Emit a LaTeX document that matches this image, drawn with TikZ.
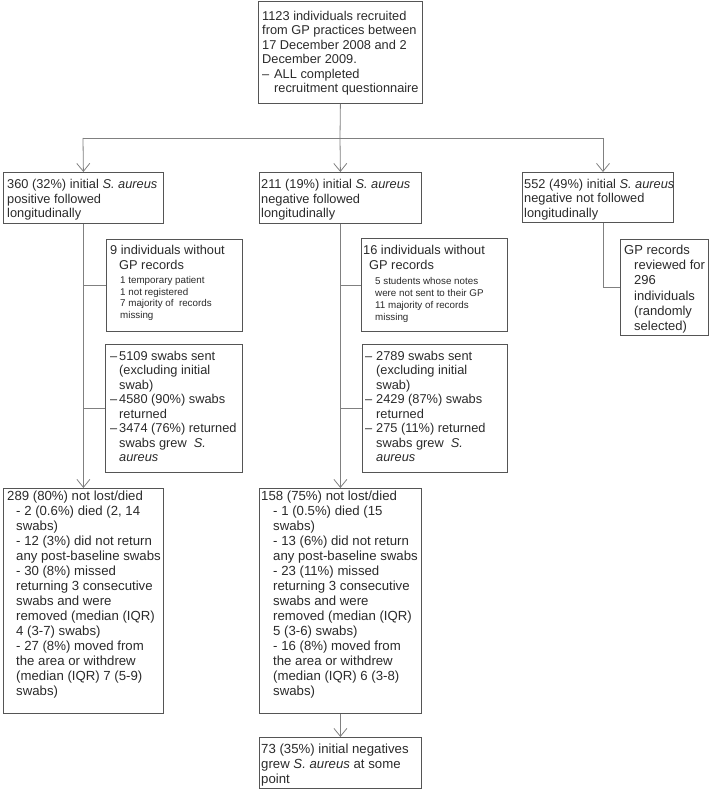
\documentclass[tikz,border=0pt]{standalone}
\usepackage{fontspec}
\setmainfont{Liberation Sans}
\usetikzlibrary{arrows.meta,calc}
\definecolor{txtc}{HTML}{2A2A2A}
\definecolor{boxc}{HTML}{555555}
\definecolor{linec}{HTML}{808080}
\newcommand{\fbigA}{\fontsize{12.8}{14.5}\selectfont}
\newcommand{\fbigB}{\fontsize{12.8}{15}\selectfont}
\newcommand{\fbot}{\fontsize{13.2}{15}\selectfont}
\newcommand{\fgp}{\fontsize{13}{15.3}\selectfont}
\newcommand{\fsmallA}{\fontsize{9.8}{11.8}\selectfont}
\newcommand{\dsh}[1]{\makebox[#1][l]{–}}
\newcommand{\ind}[1]{\hspace*{#1}}
\begin{document}
\begin{tikzpicture}[x=1pt,y=-1pt,
  box/.style={draw=boxc,line width=0.8pt,inner sep=0pt,anchor=north west},
  txt/.style={inner sep=0pt,anchor=north west,align=left,text=txtc},
  conn/.style={draw=linec,line width=0.8pt},
  arr/.style={-{Straight Barb[length=8pt,width=13pt]}}]
\useasboundingbox (0,0) rectangle (711,791);
% boxes
\node[box,minimum width=164pt,minimum height=102pt] (top) at (258,1) {};
\node[box,minimum width=160pt,minimum height=51pt] (b1) at (3,172) {};
\node[box,minimum width=162pt,minimum height=51pt] (b2) at (259,172) {};
\node[box,minimum width=151pt,minimum height=50pt] (b3) at (522,172) {};
\node[box,minimum width=136pt,minimum height=92pt] (l9) at (106,239) {};
\node[box,minimum width=137pt,minimum height=128pt] (lsw) at (105,344) {};
\node[box,minimum width=160pt,minimum height=225pt] (lbot) at (3,488) {};
\node[box,minimum width=146pt,minimum height=93pt] (m16) at (361,238) {};
\node[box,minimum width=145pt,minimum height=128pt] (msw) at (362,344) {};
\node[box,minimum width=162pt,minimum height=225pt] (mbot) at (259,488) {};
\node[box,minimum width=162pt,minimum height=51pt] (fin) at (259,737) {};
\node[box,minimum width=88pt,minimum height=96pt] (gp) at (620,239) {};
% texts
\node[txt,font=\fbigA] (ttop) at (262,9.85) {\strut 1123 individuals recruited\\from GP practices between\\17 December 2008 and 2\\December 2009.\\\dsh{12pt}ALL completed\\\ind{12pt}recruitment questionnaire};
\node[txt,font=\fbigA] (tb1) at (7,178.35) {\strut 360 (32\%) initial \textit{S. aureus}\\positive followed\\longitudinally};
\node[txt,font=\fbigA] (tb2) at (261,178.35) {\strut 211 (19\%) initial \textit{S. aureus}\\negative followed\\longitudinally};
\node[txt,font=\fbigA] (tb3) at (524,177.85) {\strut 552 (49\%) initial \textit{S. aureus}\\negative not followed\\longitudinally};
\node[txt,font=\fbigB] (tl9) at (110,244) {\strut 9 individuals without\\\ind{9pt}GP records};
\node[txt,font=\fsmallA] (tl9s) at (120,274.74) {\strut 1 temporary patient\\1 not registered\\7 majority of\ \ records\\missing};
\node[txt,font=\fbigA] (tlsw) at (110,349.85) {\strut\dsh{9pt}5109 swabs sent\\\ind{9pt}(excluding initial\\\ind{9pt}swab)\\\dsh{9pt}4580 (90\%) swabs\\\ind{9pt}returned\\\dsh{9pt}3474 (76\%) returned\\\ind{9pt}swabs grew\ \ \textit{S.}\\\ind{9pt}\textit{aureus}};
\node[txt,font=\fbot] (tlbot) at (7,489.5) {\strut 289 (80\%) not lost/died\\\ind{9pt}- 2 (0.6\%) died (2, 14\\\ind{9pt}swabs)\\\ind{9pt}- 12 (3\%) did not return\\\ind{9pt}any post-baseline swabs\\\ind{9pt}- 30 (8\%) missed\\\ind{9pt}returning 3 consecutive\\\ind{9pt}swabs and were\\\ind{9pt}removed (median (IQR)\\\ind{9pt}4 (3-7) swabs)\\\ind{9pt}- 27 (8\%) moved from\\\ind{9pt}the area or withdrew\\\ind{9pt}(median (IQR) 7 (5-9)\\\ind{9pt}swabs)};
\node[txt,font=\fbigB] (tm16) at (363,243.5) {\strut 16 individuals without\\\ind{6pt}GP records};
\node[txt,font=\fsmallA] (tm16s) at (375,276.24) {\strut 5 students whose notes\\were not sent to their GP\\11 majority of records\\missing};
\node[txt,font=\fbigA] (tmsw) at (365,349.85) {\strut\dsh{11pt}2789 swabs sent\\\ind{11pt}(excluding initial\\\ind{11pt}swab)\\\dsh{11pt}2429 (87\%) swabs\\\ind{11pt}returned\\\dsh{11pt}275 (11\%) returned\\\ind{11pt}swabs grew\ \ \textit{S.}\\\ind{11pt}\textit{aureus}};
\node[txt,font=\fbot] (tmbot) at (261,489.5) {\strut 158 (75\%) not lost/died\\\ind{12pt}- 1 (0.5\%) died (15\\\ind{12pt}swabs)\\\ind{12pt}- 13 (6\%) did not return\\\ind{12pt}any post-baseline swabs\\\ind{12pt}- 23 (11\%) missed\\\ind{12pt}returning 3 consecutive\\\ind{12pt}swabs and were\\\ind{12pt}removed (median (IQR)\\\ind{12pt}5 (3-6) swabs)\\\ind{12pt}- 16 (8\%) moved from\\\ind{12pt}the area or withdrew\\\ind{12pt}(median (IQR) 6 (3-8)\\\ind{12pt}swabs)};
\node[txt,font=\fbot] (tfin) at (261,742.5) {\strut 73 (35\%) initial negatives\\grew \textit{S. aureus} at some\\point};
\node[txt,font=\fgp] (tgp) at (624,243.3) {\strut GP records\\\ind{10pt}reviewed for\\\ind{10pt}296\\\ind{10pt}individuals\\\ind{10pt}(randomly\\\ind{10pt}selected)};
% connectors
\coordinate (jl) at (83,138);
\coordinate (jm) at (340,138);
\coordinate (jr) at (603,138);
\draw[conn] (top.south) -- (jm);
\draw[conn] (jl) -- (jr);
\draw[conn,arr] (jl) -- (b1.north);
\draw[conn,arr] (jm) -- (b2.north);
\draw[conn,arr] (jr) -- (jr |- b3.north);
\draw[conn,arr] (b1.south) -- (lbot.north);
\draw[conn] (b1.south |- l9.west) -- (l9.west);
\draw[conn] (b1.south |- lsw.west) -- (lsw.west);
\draw[conn,arr] (b2.south) -- (mbot.north);
\draw[conn] (b2.south |- m16.west) -- (m16.west);
\draw[conn] (b2.south |- msw.west) -- (msw.west);
\draw[conn,arr] (mbot.south) -- (fin.north);
\draw[conn] (jr |- b3.south) |- (gp.west);
\end{tikzpicture}
\end{document}
